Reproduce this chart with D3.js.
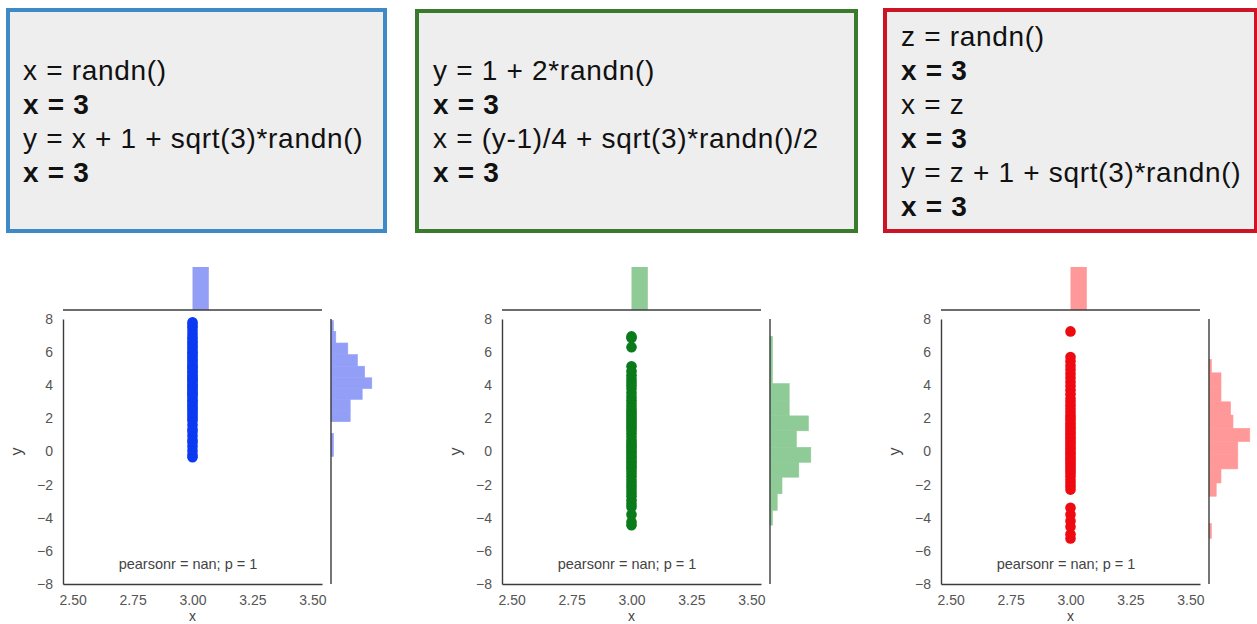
<!DOCTYPE html>
<html>
<head>
<meta charset="utf-8">
<script src="https://cdn.jsdelivr.net/npm/d3@7"></script>
<style>
  body { margin: 0; background: #fff; }
  svg { display: block; font-family: "Liberation Sans", Arial, sans-serif; }
</style>
</head>
<body>
<div id="wrapper"></div>
<script>
// text in the three boxes
const boxLines1 = ["x = randn()", "x = 3", "y = x + 1 + sqrt(3)*randn()", "x = 3"];
const boxLines2 = ["y = 1 + 2*randn()", "x = 3", "x = (y-1)/4 + sqrt(3)*randn()/2", "x = 3"];
const boxLines3 = ["z = randn()", "x = 3", "x = z", "x = 3", "y = z + 1 + sqrt(3)*randn()", "x = 3"];

// scatter y values (x is always 3)
const yValues1 = [-0.35, -0.2, 0.05, 0.3, 0.55, 0.7, 0.95, 1.2, 1.35, 1.6, 1.85, 2.0, 2.15, 2.3, 2.45, 2.6, 2.7, 2.85, 3.0, 3.1, 3.25, 3.4, 3.5, 3.6, 3.75, 3.85, 3.95, 4.05, 4.2, 4.3, 4.4, 4.5, 4.6, 4.75, 4.85, 5.0, 5.1, 5.2, 5.35, 5.5, 5.6, 5.75, 5.9, 6.0, 6.15, 6.3, 6.45, 6.6, 6.75, 6.9, 7.1, 7.3, 7.5, 7.65, 7.8];
const yValues2 = [6.95, 6.85, 6.3, 5.15, 4.85, 4.6, 4.4, 4.2, 4.0, 3.8, 3.55, 3.3, 3.1, 2.9, 2.7, 2.5, 2.35, 2.2, 2.05, 1.9, 1.75, 1.6, 1.45, 1.3, 1.1, 0.9, 0.7, 0.55, 0.4, 0.25, 0.1, -0.05, -0.2, -0.35, -0.5, -0.65, -0.8, -0.95, -1.1, -1.3, -1.5, -1.7, -1.9, -2.1, -2.3, -2.5, -2.7, -2.95, -3.15, -3.35, -3.8, -4.25, -4.45];
const yValues3 = [7.25, 5.7, 5.45, 5.2, 4.95, 4.7, 4.45, 4.2, 3.95, 3.7, 3.45, 3.2, 3.0, 2.8, 2.6, 2.4, 2.2, 2.05, 1.9, 1.7, 1.55, 1.4, 1.25, 1.1, 0.95, 0.8, 0.65, 0.5, 0.35, 0.2, 0.05, -0.1, -0.25, -0.4, -0.55, -0.7, -0.85, -1.0, -1.15, -1.3, -1.5, -1.7, -1.9, -2.1, -2.3, -3.4, -3.8, -4.2, -4.55, -5.0, -5.25];

// right marginal histograms (bin edges + counts)
const histEdges1 = [-0.3, 0.4, 1.1, 1.8, 2.5, 3.15, 3.8, 4.45, 5.15, 5.85, 6.55, 7.25, 7.9];
const histCounts1 = [1, 1, 0, 8, 8, 13, 17, 14, 11, 7, 2, 1];
const histEdges2 = [-4.45, -3.55, -2.55, -1.55, -0.65, 0.25, 1.25, 2.15, 3.1, 4.1, 5.05, 6.0, 6.95];
const histCounts2 = [1, 3, 5, 12, 17, 11, 16, 8, 8, 1, 1, 1];
const histEdges3 = [-5.25, -4.35, -3.5, -2.7, -1.9, -1.05, -0.2, 0.6, 1.4, 2.2, 3.0, 3.9, 4.75, 5.55];
const histCounts3 = [1, 0, 0, 3, 5, 12, 12, 17, 10, 9, 5, 5, 1];

// top marginal: one bin holding every point
const topBin = [3.0, 3.068];

const xTicks = [2.5, 2.75, 3.0, 3.25, 3.5];
const yTicks = [-8, -6, -4, -2, 0, 2, 4, 6, 8];
const annotation = "pearsonr = nan; p = 1";

const panels = [
  { lines: boxLines1, ys: yValues1, edges: histEdges1, counts: histCounts1,
    border: "#3d8ac6", dot: "#0b3af2", hist: "#939ff7",
    box: { x: 8, y: 10, w: 377, h: 221 }, textX: 23, firstBase: 80, left: 63 },
  { lines: boxLines2, ys: yValues2, edges: histEdges2, counts: histCounts2,
    border: "#3a7a2c", dot: "#0b7a1b", hist: "#8fcb97",
    box: { x: 417, y: 11, w: 439, h: 220 }, textX: 433, firstBase: 80, left: 502 },
  { lines: boxLines3, ys: yValues3, edges: histEdges3, counts: histCounts3,
    border: "#cc1424", dot: "#ee0a10", hist: "#ff9999",
    box: { x: 885, y: 10, w: 371, h: 221 }, textX: 901, firstBase: 46, left: 941 },
];

const dims = {
  width: 1257, height: 624,
  mainW: 259, mainTop: 319, mainBottom: 584,
  topBase: 310, topTop: 267,
  rightGap: 268, rightW: 42,
  lineStep: 34,
};

const svg = d3.select("#wrapper").append("svg")
  .attr("width", dims.width)
  .attr("height", dims.height);

svg.append("rect").attr("width", dims.width).attr("height", dims.height).attr("fill", "#fff");

const axisColor = "#3c3c3c";

panels.forEach((p) => {
  // text box
  svg.append("rect")
    .attr("x", p.box.x).attr("y", p.box.y)
    .attr("width", p.box.w).attr("height", p.box.h)
    .attr("fill", "#eeeeee")
    .attr("stroke", p.border)
    .attr("stroke-width", 4);

  svg.append("g").selectAll("text")
    .data(p.lines)
    .join("text")
    .attr("x", p.textX)
    .attr("y", (d, i) => p.firstBase + i * dims.lineStep)
    .attr("font-size", 28)
    .attr("letter-spacing", 0.7)
    .attr("font-weight", (d) => (d === "x = 3" ? "bold" : "normal"))
    .attr("fill", "#111")
    .text((d) => d);

  // scales
  const xScale = d3.scaleLinear().domain([2.46, 3.54]).range([p.left, p.left + dims.mainW]);
  const yScale = d3.scaleLinear().domain([-8, 8]).range([dims.mainBottom, dims.mainTop]);
  const topScale = d3.scaleLinear().domain([0, p.ys.length]).range([dims.topBase, dims.topTop]);
  const rightX0 = p.left + dims.rightGap;
  const rightScale = d3.scaleLinear().domain([0, 17.5]).range([0, dims.rightW]);

  // top marginal histogram
  svg.append("rect")
    .attr("x", xScale(topBin[0]))
    .attr("y", topScale(p.ys.length))
    .attr("width", xScale(topBin[1]) - xScale(topBin[0]))
    .attr("height", topScale(0) - topScale(p.ys.length))
    .attr("fill", p.hist);

  svg.append("line")
    .attr("x1", p.left).attr("x2", p.left + dims.mainW)
    .attr("y1", dims.topBase).attr("y2", dims.topBase)
    .attr("stroke", axisColor).attr("stroke-width", 1.4);

  // right marginal histogram (stroked in its own colour so no seams show)
  const bins = p.counts.map((c, i) => ({ x0: p.edges[i], x1: p.edges[i + 1], count: c }));
  svg.append("g").selectAll("rect")
    .data(bins.filter((b) => b.count > 0))
    .join("rect")
    .attr("x", rightX0)
    .attr("y", (d) => yScale(d.x1))
    .attr("width", (d) => rightScale(d.count))
    .attr("height", (d) => yScale(d.x0) - yScale(d.x1))
    .attr("fill", p.hist)
    .attr("stroke", p.hist)
    .attr("stroke-width", 0.6);

  svg.append("line")
    .attr("x1", rightX0).attr("x2", rightX0)
    .attr("y1", dims.mainTop).attr("y2", dims.mainBottom)
    .attr("stroke", axisColor).attr("stroke-width", 1.4);

  // axes
  const yAxis = svg.append("g")
    .attr("transform", `translate(${p.left},0)`)
    .call(d3.axisLeft(yScale).tickValues(yTicks).tickSize(0).tickSizeOuter(0).tickPadding(10));
  const xAxis = svg.append("g")
    .attr("transform", `translate(0,${dims.mainBottom})`)
    .call(d3.axisBottom(xScale).tickValues(xTicks).tickFormat(d3.format(".2f"))
      .tickSize(0).tickSizeOuter(0).tickPadding(11.5));

  [xAxis, yAxis].forEach((ax) => {
    ax.select(".domain").attr("stroke", axisColor).attr("stroke-width", 1.4);
    ax.selectAll("text").attr("font-size", 14).attr("fill", "#555")
      .attr("font-family", "'Liberation Sans', Arial, sans-serif");
  });

  // axis labels
  svg.append("text")
    .attr("x", xScale(3))
    .attr("y", 620.5)
    .attr("text-anchor", "middle")
    .attr("font-size", 14).attr("fill", "#444")
    .text("x");
  svg.append("text")
    .attr("transform", `translate(${p.left - 41},${yScale(0)}) rotate(-90)`)
    .attr("text-anchor", "middle")
    .attr("font-size", 16).attr("fill", "#444")
    .text("y");

  // scatter
  svg.append("g").selectAll("circle")
    .data(p.ys)
    .join("circle")
    .attr("cx", xScale(3))
    .attr("cy", (d) => yScale(d))
    .attr("r", 5.3)
    .attr("fill", p.dot);

  // annotation
  svg.append("text")
    .attr("x", p.left + dims.mainW / 2 - 4.5)
    .attr("y", 569)
    .attr("text-anchor", "middle")
    .attr("font-size", 14.5).attr("fill", "#444")
    .text(annotation);
});
</script>
</body>
</html>
